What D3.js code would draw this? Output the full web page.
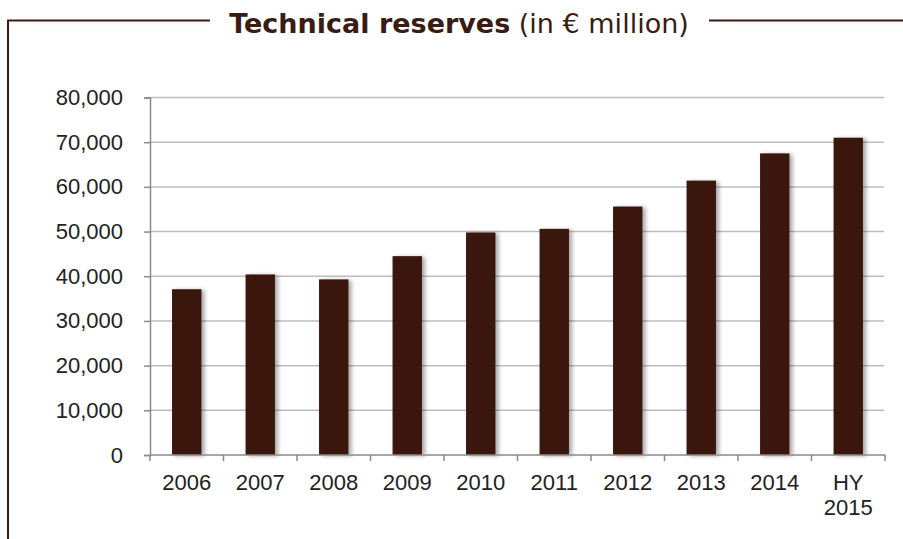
<!DOCTYPE html>
<html>
<head>
<meta charset="utf-8">
<script src="https://cdn.jsdelivr.net/npm/d3@7"></script>
<style>
  html, body { margin: 0; padding: 0; background: #fff; }
  svg { display: block; }
</style>
</head>
<body>
<svg id="chart" width="903" height="539"></svg>
<script>
// Technical reserves, in € million
const categories = ["2006", "2007", "2008", "2009", "2010", "2011", "2012", "2013", "2014", "HY\n2015"];
const reserves = [37100, 40400, 39300, 44500, 49800, 50600, 55600, 61400, 67500, 71000];
const yTicks = [0, 10000, 20000, 30000, 40000, 50000, 60000, 70000, 80000];

const svg = d3.select("#chart");
const frameColor = "#3a1c12";
const barColor = "#3a1910";

// Drop shadow for bars
const defs = svg.append("defs");
const f = defs.append("filter").attr("id", "shadow")
  .attr("x", "-20%").attr("y", "-5%").attr("width", "160%").attr("height", "110%");
f.append("feDropShadow").attr("dx", 3).attr("dy", 1).attr("stdDeviation", 2)
  .attr("flood-color", "#000").attr("flood-opacity", 0.35);

// Frame with title
svg.append("path")
  .attr("d", "M8,539 V20.5 H210 M709,20.5 H903")
  .attr("fill", "none").attr("stroke", frameColor).attr("stroke-width", 2);

const title = svg.append("text")
  .attr("x", 459).attr("y", 33)
  .attr("text-anchor", "middle")
  .attr("font-family", "'DejaVu Sans', Verdana, sans-serif")
  .attr("font-size", 27)
  .attr("fill", frameColor);
title.append("tspan").attr("font-weight", "bold").text("Technical reserves");
title.append("tspan").text(" (in € million)");

// Scales
const x = d3.scaleBand().domain(categories).range([150, 885]).paddingInner(0.6).paddingOuter(0.3);
const y = d3.scaleLinear().domain([0, 80000]).range([455, 97.5]);

const axisFont = "'Liberation Sans', Arial, Helvetica, sans-serif";
const fmt = d3.format(",");

// Horizontal gridlines
svg.append("g").selectAll("line").data(yTicks.slice(1)).join("line")
  .attr("x1", 150).attr("x2", 884)
  .attr("y1", d => y(d)).attr("y2", d => y(d))
  .attr("stroke", "#bdbdbd").attr("stroke-width", 1.5);

// Y axis
const yAxis = svg.append("g").attr("transform", "translate(150,0)")
  .call(d3.axisLeft(y).tickValues(yTicks).tickFormat(fmt).tickSize(6).tickPadding(21));
yAxis.select(".domain").attr("stroke", "#8a8a8a").attr("stroke-width", 1.5);
yAxis.selectAll(".tick line").attr("stroke", "#8a8a8a").attr("stroke-width", 1.5);
yAxis.selectAll("text").attr("font-family", axisFont).attr("font-size", 22).attr("fill", "#222");

// Bars
svg.append("g").attr("filter", "url(#shadow)")
  .selectAll("rect").data(categories).join("rect")
  .attr("x", d => x(d))
  .attr("width", x.bandwidth())
  .attr("y", (d, i) => y(reserves[i]))
  .attr("height", (d, i) => y(0) - y(reserves[i]))
  .attr("fill", barColor);

// X axis line and category boundary ticks
const step = x.step();
const x0 = x(categories[0]) - step * x.paddingOuter();
const bounds = d3.range(categories.length + 1).map(i => x0 + i * step);
svg.append("line").attr("x1", 150).attr("x2", 885).attr("y1", y(0)).attr("y2", y(0))
  .attr("stroke", "#8a8a8a").attr("stroke-width", 1.5);
svg.append("g").selectAll("line").data(bounds).join("line")
  .attr("x1", d => d).attr("x2", d => d)
  .attr("y1", y(0)).attr("y2", y(0) + 6)
  .attr("stroke", "#8a8a8a").attr("stroke-width", 1.5);

// Category labels (multi-line where needed)
const labels = svg.append("g").selectAll("text").data(categories).join("text")
  .attr("text-anchor", "middle")
  .attr("font-family", axisFont).attr("font-size", 22).attr("fill", "#222")
  .attr("transform", d => `translate(${x(d) + x.bandwidth() / 2},490)`);
labels.each(function(d) {
  const lines = d.split("\n");
  const t = d3.select(this);
  lines.forEach((ln, i) => {
    t.append("tspan").attr("x", 0).attr("y", i * 25).text(ln);
  });
});
</script>
</body>
</html>
